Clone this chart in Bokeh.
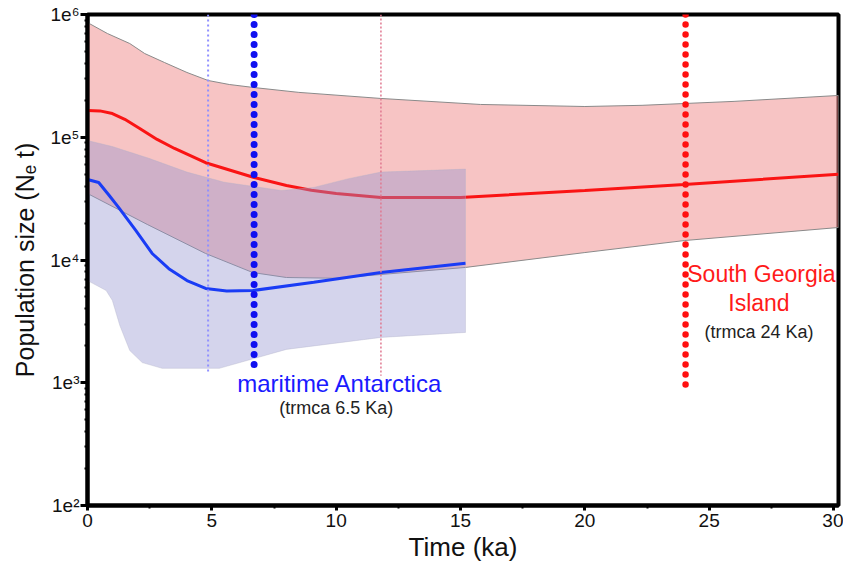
from bokeh.plotting import figure
from bokeh.models import Range1d, FixedTicker
from bokeh.core.properties import value
from bokeh.embed import file_html
from bokeh.resources import INLINE

FONT = "Liberation Sans"

# ---- data ----
red_x = [0, 0.5, 1.0, 1.5, 2.1, 2.8, 3.5, 4.75, 6.7, 8, 9, 10, 11.8, 15, 20, 24, 30.2]
red_med = [1.65e5, 1.64e5, 1.56e5, 1.40e5, 1.18e5, 9.6e4, 8.1e4, 6.2e4, 4.7e4, 4.05e4, 3.7e4, 3.48e4, 3.23e4, 3.23e4, 3.68e4, 4.12e4, 5.0e4]

red_up_x = [0, 0.8, 1.7, 2.3, 3.1, 4.0, 4.85, 5.7, 6.7, 8.5, 11.8, 15.8, 20, 22.3, 26, 30.2]
red_up = [8.6e5, 7.0e5, 5.8e5, 4.81e5, 4.06e5, 3.37e5, 2.9e5, 2.69e5, 2.54e5, 2.32e5, 2.07e5, 1.85e5, 1.78e5, 1.82e5, 1.96e5, 2.19e5]

red_lo_x = [0, 2.4, 4.75, 6.65, 8, 10, 15.2, 20, 24, 30.2]
red_lo = [3.48e4, 1.95e4, 1.13e4, 7.9e3, 7.2e3, 7.1e3, 8.7e3, 1.15e4, 1.44e4, 1.84e4]

blue_x = [0, 0.45, 0.85, 1.25, 1.94, 2.6, 3.27, 4.0, 4.75, 5.6, 6.65, 9.1, 11.8, 15.2]
blue_med = [4.53e4, 4.28e4, 3.4e4, 2.68e4, 1.74e4, 1.13e4, 8.5e3, 6.8e3, 5.86e3, 5.6e3, 5.64e3, 6.6e3, 7.9e3, 9.4e3]

blue_up_x = [0, 1, 2.5, 4, 5.5, 7.8, 9.1, 10.5, 11.8, 15.2]
blue_up = [9.4e4, 8.4e4, 6.7e4, 5.2e4, 4.3e4, 3.68e4, 3.9e4, 4.6e4, 5.2e4, 5.5e4]

blue_lo_x = [0, 0.75, 1.0, 1.3, 1.7, 2.2, 3.0, 5.3, 8.0, 11.8, 15.2]
blue_lo = [6.8e3, 5.64e3, 4.68e3, 2.93e3, 1.83e3, 1.46e3, 1.31e3, 1.31e3, 1.87e3, 2.34e3, 2.57e3]

# vertical TMRCA markers
mark_x = [4.85, 6.7, 11.8, 24.05]
mark_top = [1e6, 1e6, 1e6, 1e6]
mark_bottom = [1.2e3, 1.26e3, 1.14e3, 9.5e2]

# annotations
ann_text = ["maritime Antarctica", "(trmca 6.5 Ka)", "South Georgia", "Island", "(trmca 24 Ka)"]
ann_x = [10.15, 10.0, 27.1, 27.0, 27.0]
ann_y = [9.9e2, 6.17e2, 7.76e3, 4.5e3, 2.57e3]

x_ticks = [0, 5, 10, 15, 20, 25, 30]
x_minor = [2.5, 7.5, 12.5, 17.5, 22.5, 27.5]
y_ticks = [1e2, 1e3, 1e4, 1e5, 1e6]
y_tick_labels = ["1e²", "1e³", "1e⁴", "1e⁵", "1e⁶"]
y_minor = [m * d for d in [1e2, 1e3, 1e4, 1e5] for m in range(2, 10)]

# ---- figure ----
p = figure(width=843, height=568, y_axis_type="log",
           x_range=Range1d(0, 30.2), y_range=Range1d(1e2, 1e6),
           output_backend="svg", toolbar_location=None,
           min_border_left=87, min_border_right=5, min_border_top=14, min_border_bottom=63)
p.grid.visible = False
p.background_fill_color = "white"
p.border_fill_color = "white"
p.outline_line_color = "black"
p.outline_line_width = 4

# red band
p.patch(red_up_x + red_lo_x[::-1], red_up + red_lo[::-1],
        fill_color="#f08a8a", fill_alpha=0.5, line_color="#8a8a8a", line_width=1)
p.line(red_x, red_med, line_color="#fa1414", line_width=3)

# blue band
p.patch(blue_up_x + blue_lo_x[::-1], blue_up + blue_lo[::-1],
        fill_color="#9494d0", fill_alpha=0.4, line_color="#b0b0c8", line_width=0.6, line_alpha=0.6)
p.line(blue_x, blue_med, line_color="#1a3cf5", line_width=3)

# markers
p.line([mark_x[0], mark_x[0]], [mark_top[0], mark_bottom[0]], line_color="#9090ff",
       line_width=2, line_dash="2 3")
p.line([mark_x[2], mark_x[2]], [mark_top[2], mark_bottom[2]], line_color="#e07890",
       line_width=1.5, line_dash="2 2")
p.line([mark_x[1], mark_x[1]], [mark_top[1], mark_bottom[1]], line_color="#1010f0",
       line_width=7, line_dash="0 10", line_cap="round")
p.line([mark_x[3], mark_x[3]], [mark_top[3], mark_bottom[3]], line_color="#ff1010",
       line_width=6.5, line_dash="0 10", line_cap="round")

# annotations
colors = ["#1a1aff", "#222222", "#ff1a1a", "#ff1a1a", "#222222"]
sizes = ["24px", "18px", "23px", "23px", "18px"]
for t, x, y, c, s in zip(ann_text, ann_x, ann_y, colors, sizes):
    p.text([x], [y], text=[t], text_color=c, text_font=value(FONT), text_font_size=s,
           text_align="center", text_baseline="middle")

# axes
xa = p.xaxis[0]
xa.ticker = FixedTicker(ticks=x_ticks, minor_ticks=x_minor)
xa.axis_label = "Time (ka)"
ya = p.yaxis[0]
ya.ticker = FixedTicker(ticks=y_ticks, minor_ticks=y_minor)
ya.major_label_overrides = {t: l for t, l in zip(y_ticks, y_tick_labels)}
ya.axis_label = "Population size (Nₑ t)"

for ax in (xa, ya):
    ax.axis_line_color = "black"
    ax.axis_line_width = 4
    ax.major_tick_line_color = "black"
    ax.major_tick_line_width = 3
    ax.minor_tick_line_color = "black"
    ax.minor_tick_line_width = 2
    ax.major_label_text_font = FONT
    ax.major_label_text_font_size = "19px"
    ax.major_label_text_color = "#111111"
    ax.axis_label_text_font = FONT
    ax.axis_label_text_font_style = "normal"
    ax.axis_label_text_color = "#111111"
    ax.axis_label_text_font_size = "25px"

xa.axis_label_text_font_size = "26px"
xa.major_tick_in = 0
xa.major_tick_out = 5
xa.minor_tick_in = 0
xa.minor_tick_out = 3
xa.major_label_standoff = 3
xa.axis_label_standoff = 2

ya.major_tick_in = 0
ya.major_tick_out = 7
ya.minor_tick_in = 0
ya.minor_tick_out = 3
ya.major_label_standoff = 1
ya.axis_label_standoff = 8

open("out.html", "w").write(file_html(p, INLINE))
